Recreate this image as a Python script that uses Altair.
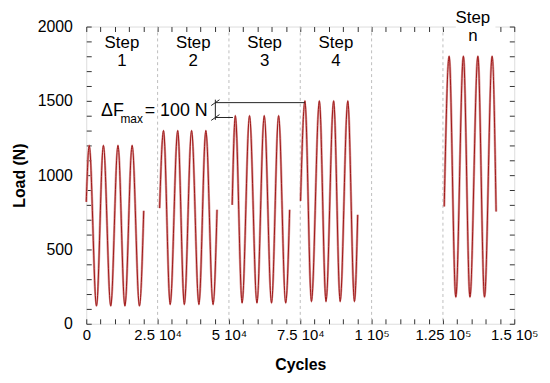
import json
import altair as alt
import pandas as pd

# ---------------- data ----------------
step_names = ["1", "2", "3", "4", "n"]

step1_cycles = [0, 1040, 3580, 6010, 8580, 11110, 13540, 16080, 18640, 20140]
step1_load = [820, 1200, 120, 1200, 120, 1200, 120, 1200, 120, 760]

step2_cycles = [25700, 27080, 29410, 32050, 34370, 36910, 39480, 41910, 44440, 45830]
step2_load = [778, 1300, 130, 1300, 130, 1300, 130, 1300, 130, 767]

step3_cycles = [51140, 52250, 54620, 57220, 59820, 62380, 64930, 67410, 69890, 71280]
step3_load = [800, 1400, 140, 1400, 140, 1400, 140, 1400, 140, 767]

step4_cycles = [75100, 76630, 78920, 81700, 84020, 86700, 88990, 91660, 93990, 95130]
step4_load = [827, 1500, 150, 1500, 150, 1500, 150, 1500, 150, 733]

stepn_cycles = [125450, 127180, 129510, 132180, 134470, 137250, 139570, 142250, 143640]
stepn_load = [789, 1800, 180, 1800, 180, 1800, 180, 1800, 755]

step_boundaries = [25000, 50000, 75000, 100000, 125000]

x_major = [0, 25000, 50000, 75000, 100000, 125000, 150000]
x_major_labels = ["0", "2.5 10\u2074", "5 10\u2074", "7.5 10\u2074", "1 10\u2075", "1.25 10\u2075", "1.5 10\u2075"]
x_ticks = list(range(0, 150001, 5000))
y_ticks = list(range(0, 2001, 100))

# step labels (centre of each step band)
step_label_x = [12500, 37500, 62500, 87500, 135500]
step_label_top = [1853, 1853, 1853, 1853, 2022]
step_label_bottom = [1733, 1733, 1733, 1733, 1900]

# delta F annotation
dF_low, dF_high = 1388, 1488
dF_x = 45240
dF_low_end = 51400
dF_high_end = 76630

# ---------------- build tables ----------------
rows = []
for name, cx, ly in zip(step_names,
                        [step1_cycles, step2_cycles, step3_cycles, step4_cycles, stepn_cycles],
                        [step1_load, step2_load, step3_load, step4_load, stepn_load]):
    for c, l in zip(cx, ly):
        rows.append({"step": name, "cycles": c, "load": l})
curve = pd.DataFrame(rows)

FONT = "Liberation Sans"
xs = alt.Scale(domain=[0, 150000], nice=False, zero=False)
ys = alt.Scale(domain=[0, 2000], nice=False, zero=False)

lab_expr = (f"indexof({json.dumps(x_major)}, datum.value) >= 0 ? "
            f"{json.dumps(x_major_labels, ensure_ascii=False)}[indexof({json.dumps(x_major)}, datum.value)] : ''")

x_bottom = alt.Axis(orient="bottom", values=x_ticks, labelExpr=lab_expr, domain=False, grid=False,
                    tickSize=5, offset=-5, labelPadding=4, labelFlush=False, labelOverlap=False,
                    labelFontSize=15, labelFont=FONT, labelColor="black", tickColor="#333",
                    title="Cycles", titleFont=FONT, titleFontSize=16, titleFontWeight="bold",
                    titlePadding=14, titleColor="black")
y_left = alt.Axis(orient="left", values=y_ticks, labelExpr="datum.value % 500 === 0 ? datum.label : ''",
                  format="d", domain=False, grid=False, tickSize=5, offset=-5, labelPadding=14,
                  labelOverlap=False, labelFontSize=16, labelFont=FONT, labelColor="black",
                  tickColor="#333", title="Load (N)", titleFont=FONT, titleFontSize=16,
                  titleFontWeight="bold", titlePadding=10, titleColor="black")
x_top = alt.Axis(orient="top", values=x_ticks, labels=False, domain=False, grid=False,
                 tickSize=5, offset=-5, tickColor="#333", title=None)
y_right = alt.Axis(orient="right", values=y_ticks, labels=False, domain=False, grid=False,
                   tickSize=5, offset=-5, tickColor="#333", title=None)

frame_bl = alt.Chart(curve).mark_point(opacity=0).encode(
    x=alt.X("cycles:Q", scale=xs, axis=x_bottom),
    y=alt.Y("load:Q", scale=ys, axis=y_left),
)
frame_tr = alt.Chart(curve).mark_point(opacity=0).encode(
    x=alt.X("cycles:Q", scale=xs, axis=x_top),
    y=alt.Y("load:Q", scale=ys, axis=y_right),
)

grid = alt.Chart(pd.DataFrame({"b": step_boundaries})).mark_rule(
    color="#bdbdbd", strokeDash=[3, 3], strokeWidth=1
).encode(x=alt.X("b:Q", scale=xs, axis=None))

line_light = alt.Chart(curve).mark_line(interpolate="monotone", color="#d99a9a", strokeWidth=2.4).encode(
    x=alt.X("cycles:Q", scale=xs, axis=None),
    y=alt.Y("load:Q", scale=ys, axis=None),
    detail="step:N",
)
line_dark = alt.Chart(curve).mark_line(interpolate="monotone", color="#a01818", strokeWidth=1).encode(
    x=alt.X("cycles:Q", scale=xs, axis=None),
    y=alt.Y("load:Q", scale=ys, axis=None),
    detail="step:N",
)

# bracket for delta F
hlines = alt.Chart(pd.DataFrame({
    "x1": [dF_x, dF_x], "x2": [dF_high_end, dF_low_end], "y": [dF_high, dF_low]
})).mark_rule(color="#222", strokeWidth=1).encode(
    x=alt.X("x1:Q", scale=xs, axis=None), x2="x2:Q",
    y=alt.Y("y:Q", scale=ys, axis=None),
)
vline = alt.Chart(pd.DataFrame({"x": [dF_x], "y1": [dF_low - 16], "y2": [dF_high + 20]})).mark_rule(
    color="#222", strokeWidth=1
).encode(
    x=alt.X("x:Q", scale=xs, axis=None),
    y=alt.Y("y1:Q", scale=ys, axis=None), y2="y2:Q",
)
slashes = alt.Chart(pd.DataFrame({"x": [dF_x, dF_x], "y": [dF_high, dF_low]})).mark_point(
    shape="M-1,0.7L1,-0.7", size=70, filled=False, color="#222", strokeWidth=1, opacity=1
).encode(
    x=alt.X("x:Q", scale=xs, axis=None),
    y=alt.Y("y:Q", scale=ys, axis=None),
)

# white patch that breaks the top border behind "Step n"
patch = alt.Chart(pd.DataFrame({"x1": [129500], "x2": [143400], "y1": [1955], "y2": [2015]})).mark_rect(
    color="white"
).encode(
    x=alt.X("x1:Q", scale=xs, axis=None), x2="x2:Q",
    y=alt.Y("y1:Q", scale=ys, axis=None), y2="y2:Q",
)

labels_df = pd.DataFrame({
    "x": step_label_x, "top": step_label_top, "bottom": step_label_bottom,
    "word": ["Step"] * 5, "num": step_names,
})
step_word = alt.Chart(labels_df).mark_text(font=FONT, fontSize=17, color="black", baseline="alphabetic").encode(
    x=alt.X("x:Q", scale=xs, axis=None), y=alt.Y("top:Q", scale=ys, axis=None), text="word:N")
step_num = alt.Chart(labels_df).mark_text(font=FONT, fontSize=17, color="black", baseline="alphabetic").encode(
    x=alt.X("x:Q", scale=xs, axis=None), y=alt.Y("bottom:Q", scale=ys, axis=None), text="num:N")

ann_df = pd.DataFrame({
    "x": [5200, 11980, 20480],
    "y": [1400, 1350, 1400],
    "t": ["\u0394F", "max", "= 100 N"],
    "fs": [18, 12, 18],
})
ann = alt.Chart(ann_df).mark_text(font=FONT, color="black", align="left", baseline="alphabetic").encode(
    x=alt.X("x:Q", scale=xs, axis=None), y=alt.Y("y:Q", scale=ys, axis=None), text="t:N",
    size=alt.Size("fs:Q", scale=None, legend=None),
)

chart = alt.layer(
    frame_bl, frame_tr, grid, line_light, line_dark, hlines, vline, slashes, patch, step_word, step_num, ann
).resolve_axis(x="independent", y="independent").properties(
    width=432, height=300,
    padding={"left": 79, "top": 17, "right": 28, "bottom": 50},
    autosize=alt.AutoSizeParams(type="none"),
).configure_view(stroke="#333", strokeWidth=1).configure(background="white")

chart.save("out.html", embed_options={"renderer": "svg", "actions": False})
